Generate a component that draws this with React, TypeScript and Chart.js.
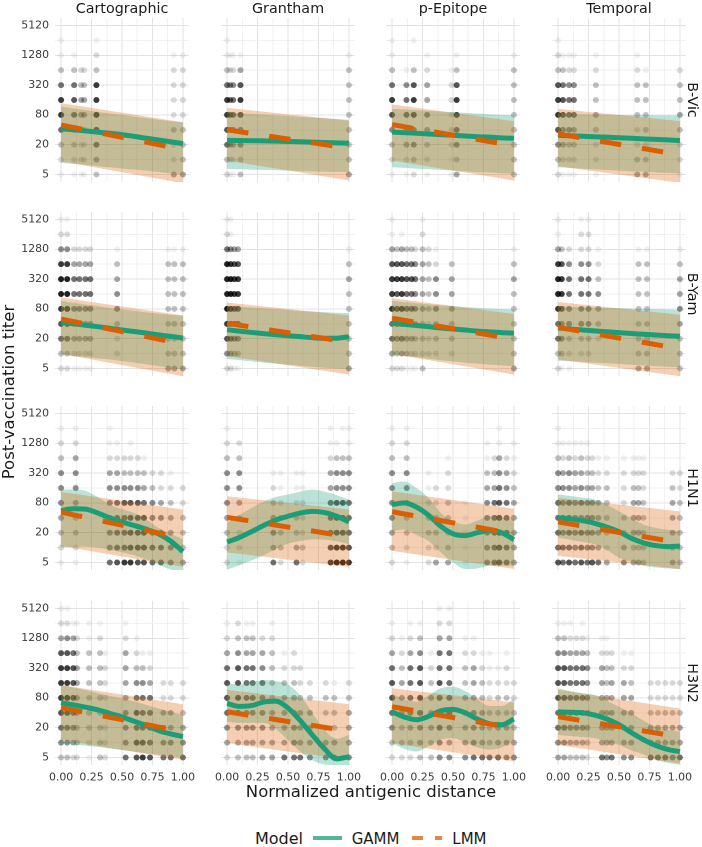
import React, { useEffect, useRef } from "react";
import { Chart, registerables } from "chart.js";
Chart.register(...registerables);

const FONT = "'DejaVu Sans', 'Liberation Sans', sans-serif";

const COLUMNS = ["Cartographic", "Grantham", "p-Epitope", "Temporal"];
const ROWS = ["B-Vic", "B-Yam", "H1N1", "H3N2"];
const TITERS = [5, 10, 20, 40, 80, 160, 320, 640, 1280, 2560, 5120];
const Y_LABELED = [5, 20, 80, 320, 1280, 5120];
const X_TICKS = [0, 0.125, 0.25, 0.375, 0.5, 0.625, 0.75, 0.875, 1];
const X_LABELED = [0, 0.25, 0.5, 0.75, 1];
const GX = [0, 0.1, 0.2, 0.3, 0.4, 0.5, 0.6, 0.7, 0.8, 0.9, 1];
const LX = [0, 1];
const POINT_ALPHA = [0, 0.06, 0.14, 0.24, 0.34, 0.44, 0.55, 0.66, 0.77, 0.87];

// point columns: [distance, darkness per titer 5..5120]
const PTS_BVIC: [number, string][][] = [
  [[0, "12368863110"], [0.107, "12346763100"], [0.165, "12234432000"], [0.19, "12234432000"], [0.29, "34678883210"], [0.925, "42232222100"], [1, "43332222100"]],
  [[0, "23678863110"], [0.025, "12456652100"], [0.05, "12456652100"], [0.11, "33557874100"], [1, "43333333100"]],
  [[0, "12357863110"], [0.118, "12446651000"], [0.178, "23557873010"], [0.288, "12345442100"], [0.488, "11222221000"], [0.53, "43568873100"], [1, "33333333100"]],
  [[0, "23578873210"], [0.04, "12457763100"], [0.09, "12356652100"], [0.13, "12346652100"], [0.31, "12234332100"], [0.65, "43223332100"], [0.72, "43233331000"], [1, "12234332000"]],
];
const PTS_BYAM: [number, string][][] = [
  [[0, "23678998521"], [0.05, "23678998521"], [0.107, "12445664200"], [0.15, "12445664200"], [0.2, "12445664200"], [0.24, "12445664200"], [0.46, "02235543100"], [0.88, "43333333100"], [0.93, "43333333100"], [1, "43333333100"]],
  [[0, "25789999621"], [0.03, "24678998511"], [0.06, "13567887400"], [0.09, "13567887400"], [1, "43333343100"]],
  [[0, "24668887411"], [0.04, "23567787300"], [0.08, "24668887410"], [0.12, "13456676300"], [0.16, "12456676300"], [0.19, "12345565200"], [0.25, "32334444321"], [0.3, "02223333200"], [0.36, "02335552100"], [0.49, "02334443000"], [1, "43333343100"]],
  [[0, "23668998411"], [0.03, "13557887300"], [0.09, "12355665200"], [0.19, "02355665221"], [0.25, "02355665221"], [0.33, "00234532100"], [0.66, "43333333100"], [0.73, "43333333100"], [1, "33345443100"]],
];
const PTS_H1N1: [number, string][][] = [
  [[0, "12345553210"], [0.12, "12334554210"], [0.4, "65555542110"], [0.46, "76666542100"], [0.52, "86667532000"], [0.57, "87777532100"], [0.63, "77777532000"], [0.68, "77776431000"], [0.75, "66555320000"], [0.82, "66554220000"], [0.9, "55443210000"], [1, "43332200000"]],
  [[0, "22345553210"], [0.1, "12234553200"], [0.38, "64543210000"], [0.44, "23332110000"], [0.57, "64332110000"], [0.62, "23222110000"], [0.85, "87666442110"], [0.9, "98777553100"], [0.95, "98777553010"], [1, "87666553110"]],
  [[0, "23455553210"], [0.12, "12334553210"], [0.3, "22332110000"], [0.36, "42332200000"], [0.46, "43333221000"], [0.6, "11111000000"], [0.78, "55555431100"], [0.84, "66666432000"], [0.88, "77777654110"], [0.94, "66666542000"], [1, "44444321100"]],
  [[0, "76666553110"], [0.04, "66565542100"], [0.09, "76666553100"], [0.14, "65555442100"], [0.19, "76656543100"], [0.24, "65555432100"], [0.28, "75555432000"], [0.33, "64444321000"], [0.4, "42333321000"], [0.54, "54332221000"], [0.62, "43444321000"], [0.66, "43444321000"], [0.7, "33333221000"], [0.94, "44444320000"], [1, "33333220000"]],
];
const PTS_H3N2: [number, string][][] = [
  [[0, "35678887421"], [0.05, "35678887521"], [0.1, "24567776410"], [0.13, "23344443210"], [0.23, "12333333110"], [0.32, "33333333210"], [0.36, "22232221000"], [0.53, "65554444210"], [0.62, "77676532100"], [0.67, "87666531000"], [0.73, "76666421000"], [0.84, "65442200000"], [0.9, "65442200000"], [1, "65432200000"]],
  [[0, "24567764210"], [0.09, "34567775320"], [0.16, "34556664310"], [0.21, "34556664310"], [0.29, "44555654200"], [0.37, "44443333210"], [0.47, "64444321000"], [0.55, "65554322000"], [0.6, "64443220000"], [0.68, "54443200000"], [0.81, "54433200000"], [0.88, "54333100000"], [1, "54443200000"]],
  [[0, "23567764210"], [0.08, "23344432100"], [0.15, "23456664210"], [0.23, "34567775310"], [0.32, "33444321000"], [0.39, "55666766421"], [0.47, "54566666421"], [0.6, "54444332100"], [0.67, "65554442100"], [0.74, "64443321000"], [0.8, "63332211000"], [0.87, "64433210000"], [0.94, "54433221000"], [1, "54332200000"]],
  [[0, "45667775310"], [0.05, "45667775310"], [0.1, "34556664210"], [0.15, "34556664200"], [0.2, "34556664210"], [0.24, "23445553100"], [0.36, "64444442100"], [0.4, "54444332100"], [0.44, "64444432000"], [0.54, "54444421000"], [0.6, "54444321000"], [0.76, "64432200000"], [0.82, "64432200000"], [0.88, "64432200000"], [0.94, "54432200000"], [1, "64432200000"]],
];

// GAMM fits at GX
const GAMM_FIT_BVIC = [
  [42, 40, 38, 36, 34, 32, 29.5, 27, 25, 23, 21],
  [24.5, 24.3, 24.1, 23.9, 23.6, 23.3, 23, 22.6, 22.2, 21.8, 21.5],
  [36, 35, 34, 33, 32, 31, 30, 29, 28.5, 27.5, 27],
  [31, 30.3, 29.6, 29, 28.4, 27.7, 27, 26.3, 25.6, 25, 24.3],
];
const GAMM_LO_BVIC = [
  [8.6, 8.2, 7.8, 7.4, 7, 6.6, 6.3, 6, 5.6, 5.3, 5],
  [6.5, 6.4, 6.3, 6.2, 6.1, 6, 5.9, 5.8, 5.7, 5.65, 5.6],
  [7, 6.8, 6.6, 6.4, 6.2, 6, 5.8, 5.6, 5.5, 5.3, 5.2],
  [7, 6.8, 6.6, 6.4, 6.2, 6, 5.8, 5.7, 5.5, 5.4, 5.3],
];
const GAMM_HI_BVIC = [
  [118, 108, 100, 92, 85, 80, 74, 69, 64, 60, 57],
  [90, 87, 84, 81, 78, 76, 73, 71, 68, 66, 64],
  [106, 103, 100, 97, 94, 91, 88, 85, 82, 80, 78],
  [84, 83, 82, 81, 80.5, 80, 79.5, 79, 78.5, 78, 78],
];
const GAMM_FIT_BYAM = [
  [43, 40, 37.5, 35, 32.5, 30, 28, 26, 24, 22.3, 20.7],
  [30.4, 28.5, 26.8, 25.4, 24, 23, 22, 21, 20.4, 20.5, 22],
  [41, 39, 37, 35, 33, 31.5, 30, 28.5, 27.5, 26.5, 26],
  [33, 31.4, 30, 28.8, 27.6, 26.5, 25.5, 24.6, 23.8, 23, 22.4],
];
const GAMM_LO_BYAM = [
  [9.6, 9, 8.5, 8, 7.6, 7.1, 6.6, 6.1, 5.6, 5.2, 4.8],
  [7.8, 7.4, 7, 6.6, 6.3, 6, 5.7, 5.4, 5.2, 5, 4.8],
  [9.6, 9, 8.4, 7.9, 7.4, 7, 6.6, 6.3, 6, 5.8, 5.6],
  [7.2, 7, 6.8, 6.6, 6.4, 6.2, 6, 5.8, 5.6, 5.45, 5.3],
];
const GAMM_HI_BYAM = [
  [116, 106, 98, 91, 84, 78, 73, 68, 64, 61, 59],
  [90, 88, 85, 82, 79, 76, 73, 71, 69, 67, 66],
  [116, 110, 104, 99, 95, 91, 87, 84, 81, 79, 77],
  [90, 88.5, 87, 85.5, 84, 83, 81.5, 80, 79, 78, 77],
];
const GAMM_FIT_H1N1 = [
  [56, 61, 60, 50, 40, 33, 28, 23.5, 19, 13.5, 8.3],
  [13, 16, 21, 28, 36, 43, 50, 54, 51, 43, 33],
  [74, 80, 66, 45, 27, 19, 17.5, 20, 22, 20, 14.5],
  [40, 38, 35, 31, 26, 21, 15.5, 12.5, 11, 10.5, 10.8],
];
const GAMM_LO_H1N1 = [
  [10, 10.3, 10.5, 10, 9, 8, 7, 5.8, 4.5, 3.6, 3],
  [3.6, 4.4, 5.5, 7, 9.5, 12, 13.6, 14.7, 14.5, 13.5, 11.7],
  [21.6, 23.3, 18, 13.6, 8, 5, 3.7, 3.8, 4.3, 4.3, 4.3],
  [15.9, 14.4, 13, 11.7, 9, 6.3, 5.2, 4.3, 4, 3.8, 3.7],
];
const GAMM_HI_H1N1 = [
  [148, 150, 140, 105, 74, 60, 50, 37, 25, 19, 14.7],
  [31.7, 45, 63, 85, 105, 118, 135, 148, 135, 115, 93],
  [201, 217, 160, 101, 50, 34, 29.4, 35, 43, 40, 37],
  [118, 110, 102, 93, 73, 54, 40, 29.4, 25, 23, 21.6],
];
const GAMM_FIT_H3N2 = [
  [64, 58, 52, 46, 39, 33, 27, 22, 17.5, 15, 13.3],
  [62, 54, 56, 66, 69, 50, 28, 14.3, 7.5, 4.7, 5.2],
  [42, 33, 29, 34, 44, 47, 40, 30, 24, 23, 30],
  [42, 41, 40, 36, 30, 23, 16, 11.5, 8.8, 7.3, 6.6],
];
const GAMM_LO_H3N2 = [
  [9.7, 9.2, 8.7, 8.2, 7.6, 7.1, 6.6, 6.1, 5.7, 5.3, 5],
  [26.6, 25, 25, 25, 19, 11.3, 6.6, 4.4, 3.6, 3.4, 3.4],
  [9.7, 7.5, 6.6, 8.5, 11.5, 12.3, 10, 8, 7.2, 8, 11.3],
  [14.3, 13.5, 13, 12.3, 10.5, 9, 7, 5.8, 4.5, 3.9, 3.6],
];
const GAMM_HI_H3N2 = [
  [146, 130, 115, 100, 88, 78, 68, 58, 49, 42, 36],
  [158, 150, 165, 184, 175, 150, 90, 40, 18, 12, 14.3],
  [99, 75, 67, 90, 125, 135, 110, 75, 55, 55, 78],
  [125, 110, 100, 92, 70, 53, 40, 28, 21, 18, 16.7],
];

// LMM fits at LX
const LMM_FIT_BVIC = [[50, 16], [40, 17], [51, 19], [33, 12.5]];
const LMM_LO_BVIC = [[9.3, 3.35], [9.6, 3.8], [9.6, 3.8], [7.3, 3.4]];
const LMM_HI_BVIC = [[138, 57], [111, 61.5], [130, 60], [106, 60]];
const LMM_FIT_BYAM = [[50, 15.5], [41, 17], [52, 19.5], [34, 12.5]];
const LMM_LO_BYAM = [[9.9, 3.5], [8.9, 3.8], [9.9, 3.8], [7.6, 3.5]];
const LMM_HI_BYAM = [[136, 59], [108, 59], [132, 63], [110, 61]];
const LMM_FIT_H1N1 = [[52, 15.5], [41, 16.5], [53, 19], [33, 12.5]];
const LMM_LO_H1N1 = [[10.8, 4.1], [8, 4.1], [8.6, 3.7], [6.8, 3.7]];
const LMM_HI_H1N1 = [[133, 59], [109, 59], [137, 61.5], [101, 54]];
const LMM_FIT_H3N2 = [[51, 16.5], [42, 17], [53, 19.5], [33.5, 13]];
const LMM_LO_H3N2 = [[11.3, 4.5], [9.7, 4.5], [9.7, 4.2], [9, 3.8]];
const LMM_HI_H3N2 = [[146, 59.5], [116, 59.5], [125, 65], [116, 49]];

const POINTS = [PTS_BVIC, PTS_BYAM, PTS_H1N1, PTS_H3N2];
const GAMM_FIT = [GAMM_FIT_BVIC, GAMM_FIT_BYAM, GAMM_FIT_H1N1, GAMM_FIT_H3N2];
const GAMM_LO = [GAMM_LO_BVIC, GAMM_LO_BYAM, GAMM_LO_H1N1, GAMM_LO_H3N2];
const GAMM_HI = [GAMM_HI_BVIC, GAMM_HI_BYAM, GAMM_HI_H1N1, GAMM_HI_H3N2];
const LMM_FIT = [LMM_FIT_BVIC, LMM_FIT_BYAM, LMM_FIT_H1N1, LMM_FIT_H3N2];
const LMM_LO = [LMM_LO_BVIC, LMM_LO_BYAM, LMM_LO_H1N1, LMM_LO_H3N2];
const LMM_HI = [LMM_HI_BVIC, LMM_HI_BYAM, LMM_HI_H1N1, LMM_HI_H3N2];

const GAMM_COLOR = "#1B9E77";
const LMM_COLOR = "#D95F02";
const GAMM_FILL = "rgba(27,158,119,0.3)";
const LMM_FILL = "rgba(217,95,2,0.3)";

// layout
const M = 14;
const COL_LEFT = [55, 221, 386, 552];
const ROW_TOP = [18, 212, 406, 601];
const PW = 134;
const PH = 164;
const YAXIS_W = 55;
const XAXIS_H = 20;

function toPoints(cols: [number, string][]) {
  const out: { x: number; y: number; d: number }[] = [];
  for (const [x, s] of cols) {
    for (let i = 0; i < TITERS.length; i++) {
      const d = Number(s[i]);
      if (d > 0) out.push({ x, y: TITERS[i], d });
    }
  }
  return out;
}

function series(xs: number[], ys: number[]) {
  return xs.map((x, i) => ({ x, y: ys[i] }));
}

function Panel({ r, c }: { r: number; c: number }) {
  const ref = useRef<HTMLCanvasElement>(null);
  const left = c === 0 ? 0 : COL_LEFT[c] - M;
  const width = (c === 0 ? YAXIS_W : M) + PW + M;
  const top = ROW_TOP[r] - M;
  const height = M + PH + (r === 3 ? XAXIS_H : 0) + M;

  useEffect(() => {
    const canvas = ref.current;
    if (!canvas) return;
    const datasets: any[] = [];
    datasets.push({
      data: toPoints(POINTS[r][c]),
      showLine: false,
      pointRadius: 3,
      pointBorderWidth: 0,
      pointBackgroundColor: (ctx: any) =>
        `rgba(0,0,0,${POINT_ALPHA[ctx.raw && ctx.raw.d ? ctx.raw.d : 0]})`,
      order: 6,
      clip: 0,
    });
    const gLo = datasets.length;
    datasets.push({
      data: series(GX, GAMM_LO[r][c]),
      pointRadius: 0,
      borderWidth: 0,
      fill: false,
      cubicInterpolationMode: "monotone",
      order: 5,
      clip: 0,
    });
    datasets.push({
      data: series(GX, GAMM_HI[r][c]),
      pointRadius: 0,
      borderWidth: 0,
      fill: { target: gLo },
      backgroundColor: GAMM_FILL,
      cubicInterpolationMode: "monotone",
      order: 5,
      clip: 0,
    });
    const lLo = datasets.length;
    datasets.push({
      data: series(LX, LMM_LO[r][c]),
      pointRadius: 0,
      borderWidth: 0,
      fill: false,
      order: 4,
      clip: 0,
    });
    datasets.push({
      data: series(LX, LMM_HI[r][c]),
      pointRadius: 0,
      borderWidth: 0,
      fill: { target: lLo },
      backgroundColor: LMM_FILL,
      order: 4,
      clip: 0,
    });
    datasets.push({
      data: series(GX, GAMM_FIT[r][c]),
      pointRadius: 0,
      borderWidth: 5,
      borderColor: GAMM_COLOR,
      borderCapStyle: "butt",
      borderJoinStyle: "round",
      fill: false,
      cubicInterpolationMode: "monotone",
      order: 2,
      clip: 0,
    });
    datasets.push({
      data: series(LX, LMM_FIT[r][c]),
      pointRadius: 0,
      borderWidth: 5,
      borderColor: LMM_COLOR,
      borderDash: [21.5, 21],
      borderCapStyle: "butt",
      fill: false,
      order: 1,
      clip: 0,
    });

    const gridColor = (major: boolean) => (major ? "#e3e3e3" : "#ececec");
    const chart = new Chart(canvas, {
      type: "line",
      data: { datasets },
      options: {
        animation: false,
        responsive: false,
        devicePixelRatio: 2,
        events: [],
        layout: { padding: { left: c === 0 ? 0 : M, right: M, top: M, bottom: M } },
        plugins: { legend: { display: false }, tooltip: { enabled: false } },
        scales: {
          x: {
            type: "linear",
            bounds: "data",
            min: -0.05,
            max: 1.05,
            afterBuildTicks: (s: any) => {
              s.ticks = X_TICKS.map((v) => ({ value: v }));
            },
            afterFit: (s: any) => {
              s.height = r === 3 ? XAXIS_H : 0;
            },
            grid: {
              drawTicks: false,
              color: (ctx: any) => gridColor(X_LABELED.includes(ctx.tick && ctx.tick.value)),
              lineWidth: (ctx: any) => (X_LABELED.includes(ctx.tick && ctx.tick.value) ? 1 : 0.7),
            },
            border: { display: false },
            ticks: {
              display: r === 3,
              autoSkip: false,
              maxRotation: 0,
              minRotation: 0,
              padding: 6,
              color: "#3a3a3a",
              font: { family: FONT, size: 10.9 },
              callback: (v: any) => (X_LABELED.includes(Number(v)) ? Number(v).toFixed(2) : ""),
            },
          },
          y: {
            type: "logarithmic",
            bounds: "data",
            min: 5 / Math.SQRT2,
            max: 5120 * Math.SQRT2,
            afterBuildTicks: (s: any) => {
              s.ticks = TITERS.map((v) => ({ value: v }));
            },
            afterFit: (s: any) => {
              s.width = c === 0 ? YAXIS_W : 0;
            },
            grid: {
              drawTicks: false,
              color: (ctx: any) => gridColor(Y_LABELED.includes(ctx.tick && ctx.tick.value)),
              lineWidth: (ctx: any) => (Y_LABELED.includes(ctx.tick && ctx.tick.value) ? 1 : 0.7),
            },
            border: { display: false },
            ticks: {
              display: c === 0,
              autoSkip: false,
              padding: 6,
              color: "#3a3a3a",
              font: { family: FONT, size: 10.9 },
              callback: (v: any) => (Y_LABELED.includes(Number(v)) ? String(v) : ""),
            },
          },
        },
      } as any,
    });
    return () => chart.destroy();
  }, [r, c]);

  return (
    <canvas
      ref={ref}
      width={width}
      height={height}
      style={{ position: "absolute", left, top, width, height }}
    />
  );
}

const textBase: React.CSSProperties = {
  position: "absolute",
  fontFamily: FONT,
  color: "#1a1a1a",
  whiteSpace: "nowrap",
};

export default function App() {
  const panels = [];
  for (let r = 0; r < 4; r++) for (let c = 0; c < 4; c++) panels.push(<Panel key={`${r}-${c}`} r={r} c={c} />);
  return (
    <div
      style={{
        position: "absolute",
        left: 0,
        top: 0,
        width: 702,
        height: 847,
        background: "#ffffff",
        overflow: "hidden",
        fontFamily: FONT,
      }}
    >
      {panels}
      {COLUMNS.map((name, c) => (
        <div
          key={name}
          style={{
            ...textBase,
            left: COL_LEFT[c] - 40,
            width: PW + 80,
            top: 1.2,
            fontSize: 14.3,
            lineHeight: "14.3px",
            textAlign: "center",
          }}
        >
          {name}
        </div>
      ))}
      {ROWS.map((name, r) => (
        <div
          key={name}
          style={{
            ...textBase,
            left: 693 - 80,
            top: ROW_TOP[r] + PH / 2 - 10,
            width: 160,
            height: 20,
            lineHeight: "20px",
            fontSize: 14.3,
            textAlign: "center",
            transform: "rotate(90deg)",
          }}
        >
          {name}
        </div>
      ))}
      <div
        style={{
          ...textBase,
          left: 9 - 110,
          top: 391.5 - 11,
          width: 220,
          height: 22,
          lineHeight: "22px",
          fontSize: 16.5,
          textAlign: "center",
          transform: "rotate(-90deg)",
        }}
      >
        Post-vaccination titer
      </div>
      <div
        style={{
          ...textBase,
          left: 371 - 150,
          width: 300,
          top: 783.7,
          fontSize: 16.5,
          lineHeight: "16.5px",
          textAlign: "center",
        }}
      >
        Normalized antigenic distance
      </div>
      <div style={{ ...textBase, left: 255, top: 830.8, fontSize: 16, lineHeight: "16px" }}>Model</div>
      <div style={{ position: "absolute", left: 313.3, top: 835.7, width: 28.4, height: 4, background: "rgba(27,158,119,0.75)" }} />
      <div style={{ ...textBase, left: 351.7, top: 831.6, fontSize: 15, lineHeight: "15px" }}>GAMM</div>
      <div style={{ position: "absolute", left: 412.3, top: 835.7, width: 10.4, height: 4, background: "rgba(217,95,2,0.75)" }} />
      <div style={{ position: "absolute", left: 435, top: 835.7, width: 6.7, height: 4, background: "rgba(217,95,2,0.75)" }} />
      <div style={{ ...textBase, left: 452.3, top: 831.6, fontSize: 15, lineHeight: "15px" }}>LMM</div>
    </div>
  );
}
